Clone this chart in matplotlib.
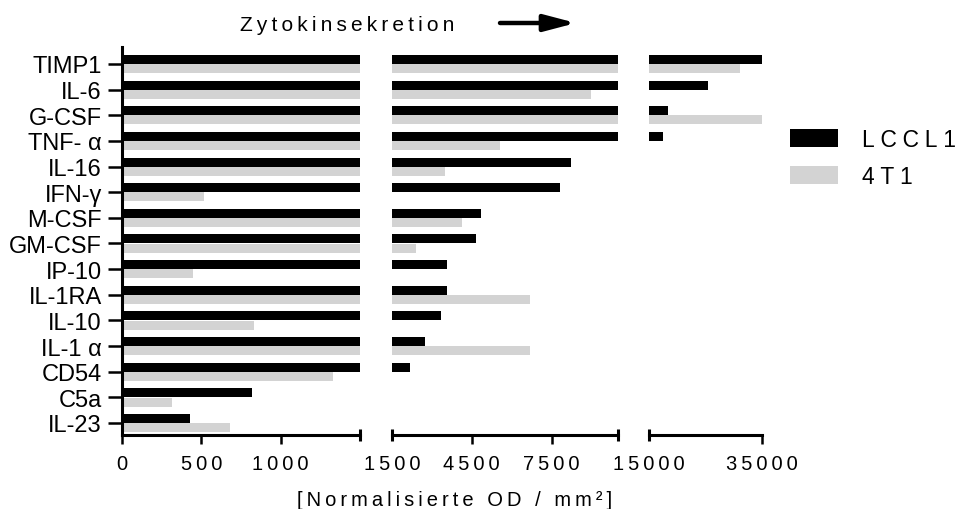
import matplotlib.pyplot as plt
from matplotlib.patches import Patch

plt.rcParams['font.family'] = ['Liberation Sans', 'DejaVu Sans']

cytokines = ["TIMP1", "IL-6", "G-CSF", "TNF- α", "IL-16", "IFN-γ", "M-CSF", "GM-CSF",
             "IP-10", "IL-1RA", "IL-10", "IL-1 α", "CD54", "C5a", "IL-23"]
lccl1 = [35000, 25400, 18300, 17400, 8250, 7800, 4850, 4650,
         3570, 3550, 3360, 2750, 2170, 820, 428]
t41 = [31100, 9000, 35000, 5550, 3500, 517, 4150, 2420,
       445, 6680, 835, 6700, 1330, 317, 680]

# x ranges of the three pieces of the broken axis
segments = [(0, 1500), (1500, 10000), (15000, 35000)]
major_ticks = [[0, 500, 1000], [4500, 7500], [35000]]
cap_ticks = [[1500], [1500, 10000], [15000]]
cap_labels = [[""], ["1500", ""], ["15000"]]

GRAY = "#d3d3d3"
W, H = 963, 510


def spaced(s, gap="\u2009"):
    return gap.join(s)


fig = plt.figure(figsize=(W / 100, H / 100), dpi=100)


def px_axes(x0, x1, y0, y1):
    return fig.add_axes([x0 / W, 1 - y1 / H, (x1 - x0) / W, (y1 - y0) / H])


axes = [px_axes(122, 360, 48, 436), px_axes(392, 618, 48, 436), px_axes(649, 762, 48, 436)]

rows = list(range(len(cytokines)))
tick_len, tick_pad = 6.5, 7.0
cap_len = 8.0

for i, ax in enumerate(axes):
    ax.barh([r - 0.175 for r in rows], lccl1, height=0.35, color="black")
    ax.barh([r + 0.185 for r in rows], t41, height=0.35, color=GRAY)
    ax.set_xlim(*segments[i])
    ax.set_ylim(14.47, -0.66)

    ax.spines["top"].set_visible(False)
    ax.spines["right"].set_visible(False)
    ax.spines["bottom"].set_linewidth(2.2)

    ax.set_xticks(major_ticks[i], labels=[spaced(str(t)) for t in major_ticks[i]])
    ax.set_xticks(cap_ticks[i], labels=[spaced(t) for t in cap_labels[i]], minor=True)
    ax.tick_params(axis="x", which="major", direction="out", length=tick_len, width=1.8,
                   labelsize=14.5, pad=tick_pad)
    ax.tick_params(axis="x", which="minor", direction="inout", length=cap_len, width=2.2,
                   labelsize=14.5, pad=tick_pad + tick_len - cap_len / 2)

    if i == 0:
        ax.spines["left"].set_linewidth(2.2)
        ax.set_yticks(rows, labels=cytokines)
        ax.tick_params(axis="y", direction="out", length=10, width=1.8, labelsize=17, pad=4.5)
    else:
        ax.spines["left"].set_visible(False)
        ax.set_yticks([])

fig.text(455 / W, 1 - 506 / H, spaced("[Normalisierte OD / mm²]"), ha="center",
         va="baseline", fontsize=14.5)
fig.text(347 / W, 1 - 31 / H, spaced("Zytokinsekretion"), ha="center",
         va="baseline", fontsize=15)
axes[0].annotate("", xy=(576, H - 24), xytext=(500, H - 24),
                 xycoords="figure pixels", textcoords="figure pixels",
                 arrowprops=dict(arrowstyle="-|>,head_length=1.9,head_width=0.5",
                                 lw=3.2, color="black", mutation_scale=10,
                                 shrinkA=0, shrinkB=0),
                 annotation_clip=False)

handles = [Patch(facecolor="black", label=spaced("LCCL1", "\u2005")),
           Patch(facecolor=GRAY, label=spaced("4T1", "\u2005"))]
fig.legend(handles=handles, loc="upper left", bbox_to_anchor=(790 / W, 1 - 129 / H),
           frameon=False, fontsize=16.5, handlelength=2.1, handleheight=0.85,
           handletextpad=1.05, labelspacing=0.6, borderpad=0, borderaxespad=0)

fig.savefig("out.png", dpi=100)
